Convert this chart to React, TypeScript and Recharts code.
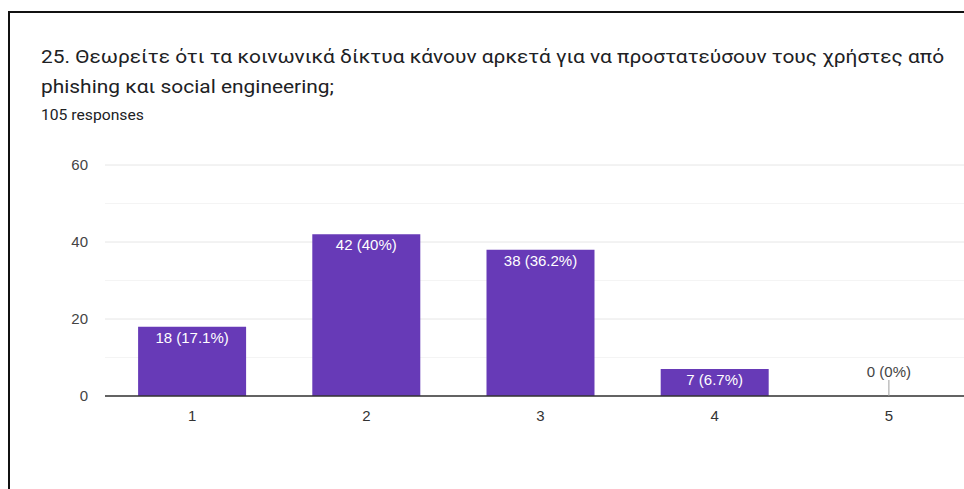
import React from 'react';
import { ComposedChart, Bar, Line, XAxis, YAxis, CartesianGrid, LabelList } from 'recharts';

const categories = ['1', '2', '3', '4', '5'];
const counts = [18, 42, 38, 7, 0];
const percents = ['17.1%', '40%', '36.2%', '6.7%', '0%'];
const yTicks = [0, 20, 40, 60];
const minorTicks = [10, 30, 50];
const responses = 105;

const titleLine1 = '25. Θεωρείτε ότι τα κοινωνικά δίκτυα κάνουν αρκετά για να προστατεύσουν τους χρήστες από';
const titleLine2 = 'phishing και social engineering;';

const data = categories.map((c, i) => ({
  name: c,
  count: counts[i],
  label: `${counts[i]} (${percents[i]})`,
}));

const chartFont = 'Arial, "Liberation Sans", sans-serif';

// white label inside the top of a bar
const BarLabel = (props: any) => {
  const { x, y, width, index } = props;
  if (!data[index] || !data[index].count) return null;
  const cx = Number(x) + Number(width) / 2;
  return (
    <text x={cx} y={Number(y) + 16} textAnchor="middle" fill="#fff" fontSize={15} fontFamily={chartFont}>
      {data[index].label}
    </text>
  );
};

// zero-value bars: small stem with the label above it
const ZeroDot = (props: any) => {
  const { cx, cy, index } = props;
  if (!data[index] || data[index].count !== 0) return <g key={`z${index}`} />;
  return (
    <g key={`z${index}`}>
      <line x1={cx} x2={cx} y1={cy - 16} y2={cy} stroke="#9e9e9e" strokeWidth={1} />
      <text x={cx} y={cy - 19} textAnchor="middle" fill="#444" fontSize={15} fontFamily={chartFont}>
        {data[index].label}
      </text>
    </g>
  );
};

export default function App() {
  return (
    <div style={{ position: 'absolute', left: 0, top: 0, width: 964, height: 489, overflow: 'hidden', background: '#fff' }}>
      <div
        style={{
          position: 'absolute', left: 8, top: 11, width: 1100, height: 700,
          border: '2px solid #111', boxSizing: 'border-box',
        }}
      />
      <div
        style={{
          position: 'absolute', left: 41, top: 42, fontFamily: 'Roboto, sans-serif',
          fontSize: 19, lineHeight: '30px', color: '#202124', whiteSpace: 'nowrap',
          transform: 'scaleX(1.1)', transformOrigin: 'left top',
        }}
      >
        {titleLine1}
        <br />
        {titleLine2}
      </div>
      <div
        style={{
          position: 'absolute', left: 41, top: 106, fontFamily: 'Roboto, sans-serif',
          fontSize: 14, lineHeight: '18px', color: '#202124', whiteSpace: 'nowrap',
          transform: 'scaleX(1.12)', transformOrigin: 'left top',
        }}
      >
        {responses} responses
      </div>
      <div style={{ position: 'absolute', left: 0, top: 0 }}>
        <ComposedChart
          width={1000}
          height={489}
          data={data}
          margin={{ top: 165, right: 24, bottom: 0, left: 0 }}
          barCategoryGap="19%"
        >
          <CartesianGrid vertical={false} stroke="#f4f4f4" horizontalValues={minorTicks} />
          <CartesianGrid vertical={false} stroke="#e6e6e6" horizontalValues={yTicks} />
          <XAxis
            dataKey="name"
            tickLine={false}
            axisLine={{ stroke: '#333', strokeWidth: 1.5 }}
            tickSize={0}
            tickMargin={14}
            height={93}
            tick={{ fill: '#333', fontSize: 15, fontFamily: chartFont }}
          />
          <YAxis
            domain={[0, 60]}
            ticks={yTicks}
            width={105}
            axisLine={false}
            tickLine={false}
            tickSize={0}
            tickMargin={17}
            tick={{ fill: '#444', fontSize: 15, fontFamily: chartFont }}
          />
          <Bar dataKey="count" fill="#673ab7" isAnimationActive={false}>
            <LabelList dataKey="count" content={BarLabel} />
          </Bar>
          <Line
            dataKey="count"
            stroke="none"
            dot={ZeroDot}
            activeDot={false}
            legendType="none"
            isAnimationActive={false}
          />
        </ComposedChart>
      </div>
    </div>
  );
}
